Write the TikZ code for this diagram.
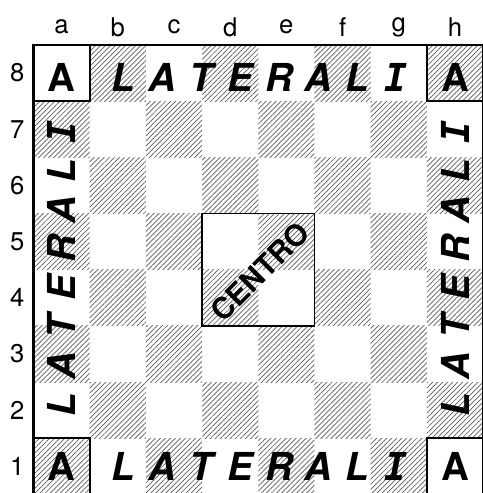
\documentclass[tikz,border=0pt]{standalone}
\usepackage{fontspec}
\setmainfont{TeX Gyre Heros}
\newfontfamily\slabfont{DejaVu Sans Mono}
\usetikzlibrary{patterns.meta}

\tikzset{
  hatch/.style={pattern={Lines[angle=45,distance=1.8pt,line width=0.35pt]}, pattern color=black!65},
  lbl/.style={font=\fontsize{13}{15}\selectfont, inner sep=0pt},
  big/.style={font=\fontsize{19.5}{22}\selectfont\bfseries, inner sep=0pt},
  side/.style={font=\fontsize{19.5}{22}\selectfont\bfseries\itshape, inner sep=0pt}
}

\begin{document}
\begin{tikzpicture}[x=1cm,y=1cm]
    \useasboundingbox (-0.596,0.027) rectangle (7.99,8.80);
    % hatched squares
    \foreach \f in {1,...,8}
      \foreach \r in {1,...,8} {
        \pgfmathparse{int(mod(\f+\r,2))}
        \ifnum\pgfmathresult=0
          \fill[hatch] (\f-1,\r-1) rectangle (\f,\r);
        \fi
      }
    \draw[line width=1.3pt] (0,0) rectangle (8,8);
    \draw[line width=1pt] (0,7) rectangle (1,8);
    \draw[line width=1pt] (7,7) rectangle (8,8);
    \draw[line width=1pt] (0,0) rectangle (1,1);
    \draw[line width=1pt] (7,0) rectangle (8,1);
    \draw[line width=0.9pt] (3,3) rectangle (5,5);
    % coordinates
    \foreach \l [count=\i] in {a,b,c,d,e,f,g,h}
      \node[lbl] (file-\l) at (\i-0.5,8.32) {\l};
    \foreach \r in {1,...,8}
      \node[lbl] (rank-\r) at (-0.29,\r-0.5) {\r};
    % corners
    \node[big] (corner-a8) at (0.5,7.42) {A};
    \node[big] (corner-h8) at (7.5,7.42) {A};
    \node[big] (corner-a1) at (0.5,0.5) {A};
    \node[big] (corner-h1) at (7.5,0.5) {A};
    % sides
    \foreach \ch [count=\i] in {L,A,T,E,R,A,L,{\slabfont I}} {
      \node[side] (top-\i) at ({4.03+(\i-4.5)*0.694},7.42) {\ch};
      \node[side] (bot-\i) at ({4.03+(\i-4.5)*0.694},0.5) {\ch};
      \node[side,rotate=90] (left-\i) at (0.5,{4.03+(\i-4.5)*0.694}) {\ch};
      \node[side,rotate=90] (right-\i) at (7.5,{4.03+(\i-4.5)*0.694}) {\ch};
    }
    \node[font=\fontsize{15}{18}\selectfont\bfseries, rotate=45, inner sep=0pt] (centro) at (4.03,3.96) {CENTRO};
\end{tikzpicture}
\end{document}
